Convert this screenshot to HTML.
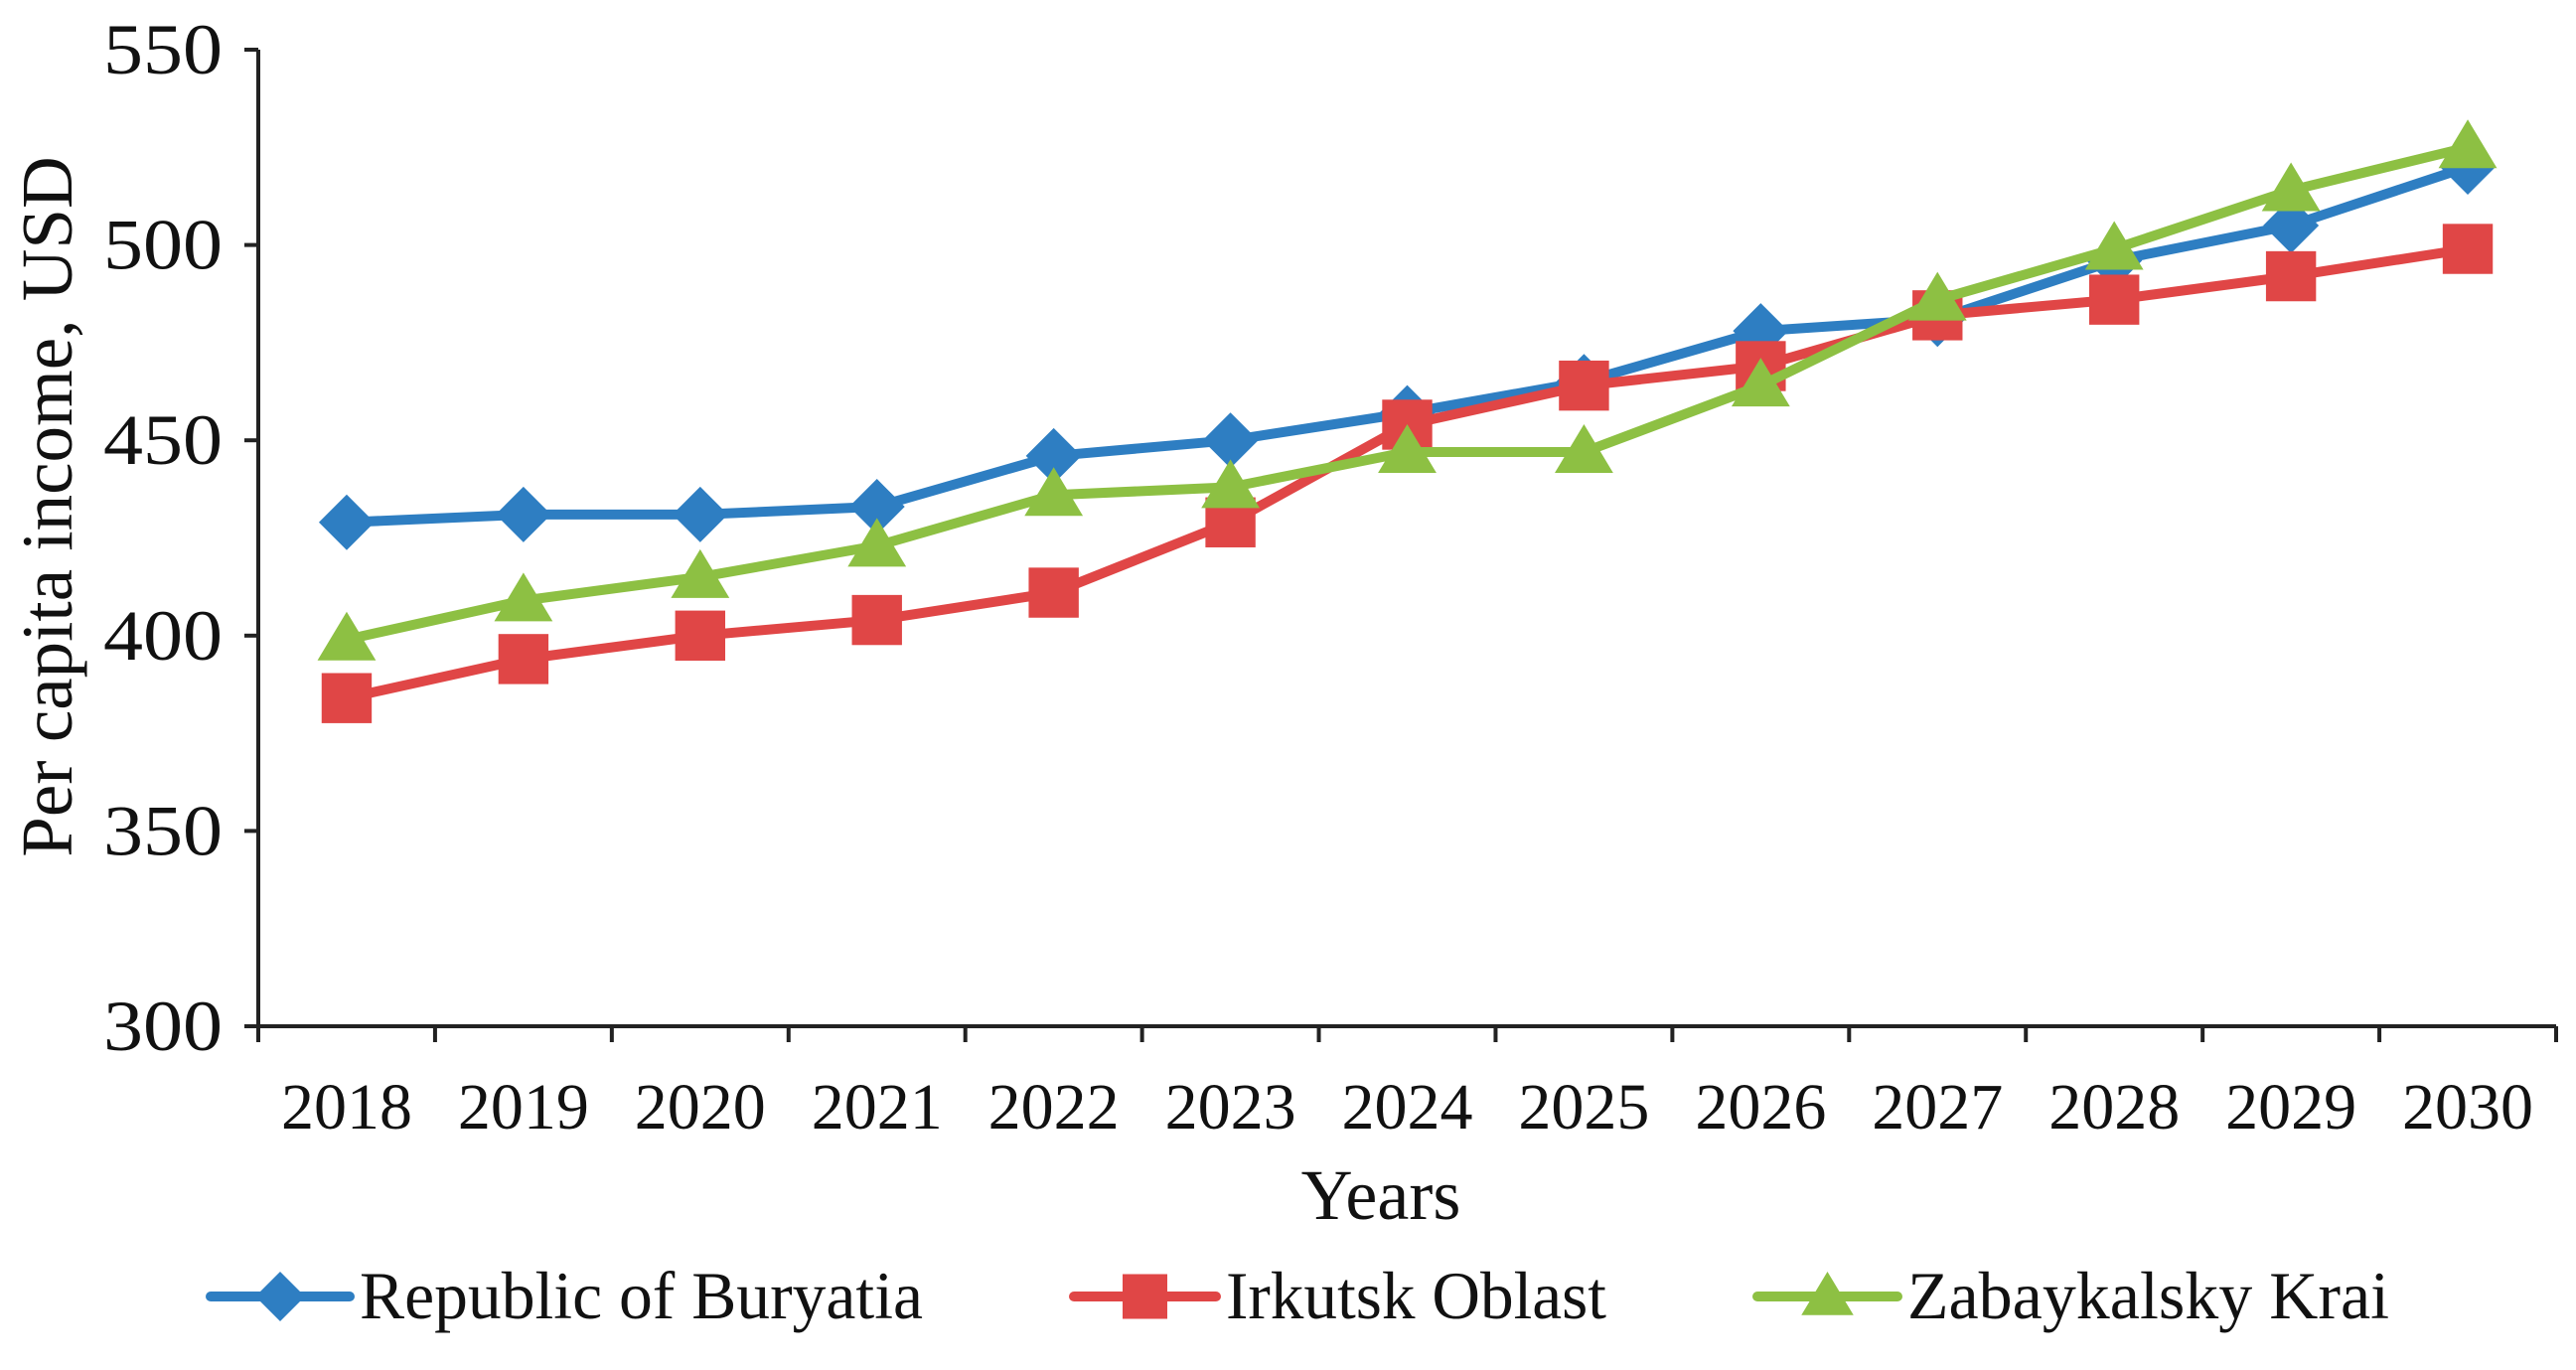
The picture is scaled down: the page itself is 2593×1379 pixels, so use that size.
<!DOCTYPE html>
<html><head><meta charset="utf-8"><style>
body{margin:0;background:#fff;}
svg text{font-family:"Liberation Serif",serif;fill:#111;}
</style></head><body>
<svg id="chart" width="2593" height="1374" viewBox="0 0 2593 1374" xmlns="http://www.w3.org/2000/svg">
<g id="axes"></g><g id="series"></g><g id="legend"></g>
</svg>
<script>
const years = ["2018","2019","2020","2021","2022","2023","2024","2025","2026","2027","2028","2029","2030"];
const buryatia = [429,431,431,433,446,450,457,465,478,481,496,505,520];
const irkutsk = [384,394,400,404,411,429,454,464,469,482,486,492,499];
const zabaykalsky = [399,409,415,423,436,438,447,447,464,486,499,514,525];
const yTicks = [300,350,400,450,500,550];
const seriesNames = ["Republic of Buryatia","Irkutsk Oblast","Zabaykalsky Krai"];

const NS="http://www.w3.org/2000/svg";
const L=260,R=2573,T=50,B=1033,yMin=300,yMax=550;
const step=(R-L)/years.length;
const xs=i=>L+step*(i+0.5);
const ys=v=>B-(v-yMin)/(yMax-yMin)*(B-T);
function mk(tag,attrs,parent){const e=document.createElementNS(NS,tag);for(const k in attrs)e.setAttribute(k,attrs[k]);parent.appendChild(e);return e;}
const axes=document.getElementById('axes'),sg=document.getElementById('series'),lg=document.getElementById('legend');

let e=mk('line',{x1:L,y1:T,x2:L,y2:B,stroke:'#222','stroke-width':4},axes);

e=mk('line',{x1:L,y1:B,x2:R,y2:B,stroke:'#222','stroke-width':4},axes);

yTicks.forEach(v=>{
 const y=ys(v);
 mk('line',{x1:L-14,y1:y,x2:L,y2:y,stroke:'#222','stroke-width':4},axes);
 const t=mk('text',{x:224,y:y+24,'text-anchor':'end','font-size':72,textLength:120,lengthAdjust:'spacingAndGlyphs'},axes);t.textContent=v;
 
 
});
for(let i=0;i<=years.length;i++){mk('line',{x1:L+step*i,y1:B,x2:L+step*i,y2:B+16,stroke:'#222','stroke-width':4},axes);}
years.forEach((yr,i)=>{const t=mk('text',{x:xs(i),y:1136,'text-anchor':'middle','font-size':66,textLength:132,lengthAdjust:'spacingAndGlyphs'},axes);t.textContent=yr;
 
 });
e=mk('text',{x:1390,y:1227,'text-anchor':'middle','font-size':72},axes);e.textContent='Years';

e=mk('text',{x:0,y:0,'text-anchor':'middle','font-size':73,transform:'translate(72,510) rotate(-90)'},axes);e.textContent='Per capita income, USD';


function marker(type,x,y,color,p,s){
 if(type==='d')return mk('polygon',{points:`${x},${y-s} ${x+s},${y} ${x},${y+s} ${x-s},${y}`,fill:color},p);
 if(type==='s')return mk('rect',{x:x-s*0.9,y:y-s*0.9,width:s*1.8,height:s*1.8,fill:color},p);
 return mk('polygon',{points:`${x},${y-s} ${x+s*1.05},${y+s*0.75} ${x-s*1.05},${y+s*0.75}`,fill:color},p);
}
const defs=[[buryatia,'#2e7ec2','d','series-buryatia'],[irkutsk,'#e04646','s','series-irkutsk'],[zabaykalsky,'#8dc043','t','series-zabaykalsky']];
defs.forEach(([data,color,type,name])=>{
 const g=mk('g',{},sg);
 
 
 mk('polyline',{points:data.map((v,i)=>xs(i)+','+ys(v)).join(' '),fill:'none',stroke:color,'stroke-width':10,'stroke-linejoin':'round'},g);
 data.forEach((v,i)=>{const m=marker(type,xs(i),ys(v),color,g,28);
  
  });
});
const legX=[[212,352,362,567],[1081,1224,1234,383],[1769,1910,1920,485]];
defs.forEach(([d,color,type],k)=>{
 const g=mk('g',{},lg);
 
 
 const [x1,x2,tx,tl]=legX[k];const y=1305;
 mk('line',{x1:x1,y1:y,x2:x2,y2:y,stroke:color,'stroke-width':10,'stroke-linecap':'round'},g);
 marker(type,(x1+x2)/2,y,color,g,25);
 const t=mk('text',{x:tx,y:y+22,'font-size':68,textLength:tl,lengthAdjust:'spacingAndGlyphs'},g);t.textContent=seriesNames[k];
});
</script>
</body></html>
